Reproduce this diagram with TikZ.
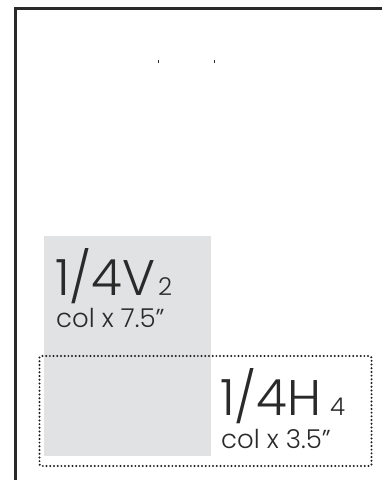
\documentclass[tikz,border=0pt]{standalone}
\usepackage{fontspec}
\newfontfamily\lightfont{Poppins}[UprightFont=* Light]
\definecolor{ink}{HTML}{2B2A2A}
\definecolor{dotink}{HTML}{1E1E1E}
\definecolor{panel}{HTML}{E1E2E4}
\begin{document}
\begin{tikzpicture}[x=1pt,y=-1pt,
  bigt/.style={inner sep=0pt, text=ink, font=\lightfont\fontsize{50}{50}\selectfont},
  subt/.style={inner sep=0pt, text=ink, font=\lightfont\fontsize{24.5}{24.5}\selectfont},
  colt/.style={inner sep=0pt, text=ink, font=\lightfont\fontsize{26}{26}\selectfont},
  dotbox/.style={draw=dotink, line width=2.2pt, line cap=round, dash pattern=on 0pt off 3.7pt, rounded corners=1.5pt}]
\useasboundingbox (0,0) rectangle (382,480);
\clip (0,0) rectangle (382,480);
\fill[white] (0,0) rectangle (382,480);
% page frame
\draw[ink, line width=3pt] (15.5,490) -- (15.5,8.5) -- (392,8.5);
% small ticks
\draw[ink, line width=0.8pt] (158.5,60) -- (158.5,63);
\draw[ink, line width=0.8pt] (214.5,60) -- (214.5,63);
% quarter vertical panel
\fill[panel] (44,236) rectangle (211,455.5);
% quarter horizontal dotted box
\draw[dotbox] (39.5,356) rectangle (371.5,466);
% labels
\node[bigt, anchor=base west] (v) at (55,295) {1/4V};
\node[subt, anchor=base west] (v2) at (158,295) {2};
\node[colt, anchor=base west] (vc) at (56,327) {col x 7.5”};
\node[bigt, anchor=base west] (h) at (220,415) {1/4H};
\node[subt, anchor=base west] (h4) at (330,415) {4};
\node[colt, anchor=base west] (hc) at (221,448) {col x 3.5”};
\end{tikzpicture}
\end{document}
